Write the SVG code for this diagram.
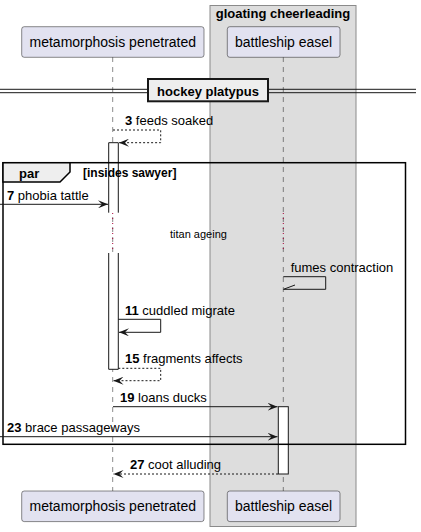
<svg xmlns="http://www.w3.org/2000/svg" width="421" height="532" viewBox="0 0 421 532">
<defs>
<style>
text{font-family:"Liberation Sans",Arial,sans-serif;fill:#000}
.pt{font-size:14px}
.msg{font-size:13px}
.b{font-weight:bold}
.part{fill:#E2E2F0;stroke:#181818;stroke-width:0.5}
.life{stroke:#181818;stroke-width:0.5;stroke-dasharray:5,5;fill:none}
.act{fill:#FFFFFF;stroke:#181818;stroke-width:1}
.ln{stroke:#181818;stroke-width:1;fill:none}
.dash{stroke:#181818;stroke-width:1;stroke-dasharray:2,2;fill:none}
.dly{stroke:#A80036;stroke-width:1;stroke-dasharray:1,4;fill:none}
</style>
<marker id="ah" viewBox="0 0 10 8" refX="10" refY="4" markerWidth="10" markerHeight="8" markerUnits="userSpaceOnUse" orient="auto">
<polygon points="0,0 10,4 0,8 4,4" fill="#181818"/>
</marker>
</defs>
<rect id="box" x="210" y="5.5" width="146" height="521" fill="#DDDDDD" stroke="#8A8A8A" stroke-width="1"/>
<text x="283" y="18" class="msg b" text-anchor="middle">gloating cheerleading</text>
<g id="lifelines">
<line class="life" x1="112.7" y1="57" x2="112.7" y2="491"/>
<line class="life" x1="283.3" y1="57" x2="283.3" y2="491"/>
</g>
<g id="divider">
<line class="ln" x1="0" y1="89.3" x2="416" y2="89.3"/>
<line class="ln" x1="0" y1="92.7" x2="416" y2="92.7"/>
<rect x="148" y="79" width="120" height="22.3" fill="#EEEEEE" stroke="#181818" stroke-width="2"/>
<text x="208" y="95.5" class="msg b" text-anchor="middle">hockey platypus</text>
</g>
<g id="activations">
<rect x="108.7" y="142.7" width="9.6" height="70" fill="#FFFFFF" stroke="none"/>
<path class="ln" d="M108.7,212.7 V142.7 H118.3 V212.7"/>
<rect x="108.7" y="253" width="9.6" height="116.3" fill="#FFFFFF" stroke="none"/>
<path class="ln" d="M108.7,253 V369.3 H118.3 V253"/>
<rect class="act" x="278.3" y="406.7" width="10" height="67.3"/>
</g>
<g id="par">
<rect x="3" y="162.7" width="402.5" height="281.6" fill="none" stroke="#000" stroke-width="1.5"/>
<path d="M3,162.7 H70 V172 L60,182 H3 Z" fill="#EEEEEE" stroke="#000" stroke-width="1.5"/>
<text x="19" y="178" class="msg b">par</text>
<text x="83" y="177" class="b" font-size="12">[insides sawyer]</text>
</g>
<g id="delay">
<line class="dly" x1="112.7" y1="213" x2="112.7" y2="253"/>
<line class="dly" x1="283.3" y1="213" x2="283.3" y2="253"/>
<text x="170" y="237.5" font-size="11">titan ageing</text>
</g>
<g id="connectors">
<path class="dash" d="M113,130 H160.7 V142.7 H119" marker-end="url(#ah)"/>
<text x="125" y="125" class="msg"><tspan class="b">3</tspan> feeds soaked</text>
<line class="ln" x1="0" y1="204.3" x2="108" y2="204.3" marker-end="url(#ah)"/>
<text x="7" y="199.5" class="msg"><tspan class="b">7</tspan> phobia tattle</text>
<path class="ln" d="M283.3,276.7 H325.7 V289.3 H283.5"/>
<line class="ln" x1="283.5" y1="289.3" x2="295" y2="285"/>
<text x="290.7" y="272" class="msg">fumes contraction</text>
<path class="ln" d="M118.3,319.3 H160.7 V332.3 H119" marker-end="url(#ah)"/>
<text x="125" y="315" class="msg"><tspan class="b">11</tspan> cuddled migrate</text>
<path class="dash" d="M118.3,368.3 H160.7 V380.7 H113.5" marker-end="url(#ah)"/>
<text x="125" y="363" class="msg"><tspan class="b">15</tspan> fragments affects</text>
<line class="ln" x1="113" y1="406.7" x2="277.5" y2="406.7" marker-end="url(#ah)"/>
<text x="120" y="402" class="msg"><tspan class="b">19</tspan> loans ducks</text>
<line class="ln" x1="0" y1="436.7" x2="277.5" y2="436.7" marker-end="url(#ah)"/>
<text x="7" y="431.5" class="msg"><tspan class="b">23</tspan> brace passageways</text>
<line class="dash" x1="278" y1="474" x2="113.5" y2="474" marker-end="url(#ah)"/>
<text x="130" y="468.5" class="msg"><tspan class="b">27</tspan> coot alluding</text>
</g>
<g id="p-metamorphosis-top">
<rect class="part" x="21.7" y="26.7" width="182.3" height="30.6" rx="2.5"/>
<text x="112.8" y="47" class="pt" text-anchor="middle">metamorphosis penetrated</text>
</g>
<g id="p-battleship-top">
<rect class="part" x="227.3" y="26.7" width="112.7" height="30.6" rx="2.5"/>
<text x="283.6" y="47" class="pt" text-anchor="middle">battleship easel</text>
</g>
<g id="p-metamorphosis-bottom">
<rect class="part" x="21.7" y="491" width="182.3" height="30.6" rx="2.5"/>
<text x="112.8" y="511.3" class="pt" text-anchor="middle">metamorphosis penetrated</text>
</g>
<g id="p-battleship-bottom">
<rect class="part" x="227.3" y="491" width="112.7" height="30.6" rx="2.5"/>
<text x="283.6" y="511.3" class="pt" text-anchor="middle">battleship easel</text>
</g>
</svg>
